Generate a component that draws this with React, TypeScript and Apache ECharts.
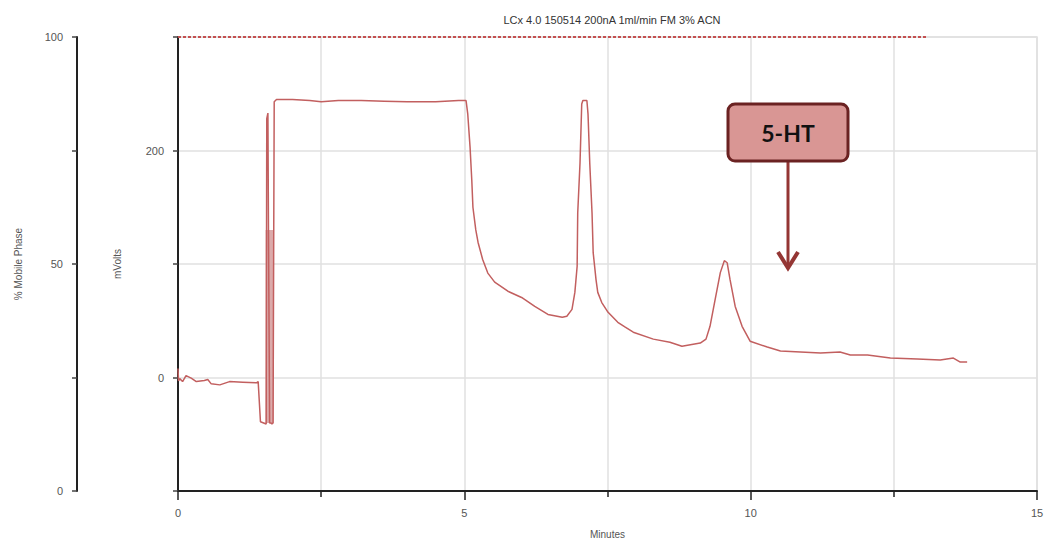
import React, { useEffect, useRef } from "react";
import * as echarts from "echarts";

const chartTitle = "LCx 4.0 150514 200nA 1ml/min FM 3% ACN";
const xAxisName = "Minutes";
const mvAxisName = "mVolts";
const phaseAxisName = "% Mobile Phase";
const mvLabels = [0, 200];
const phaseLabels = [0, 50, 100];
const peakLabel = "5-HT";

// detector trace [minutes, mV]
const traceTimes = [
  0, 0.01, 0.03, 0.08, 0.14, 0.23, 0.32, 0.46, 0.52, 0.58, 0.73, 0.9, 1.13, 1.37, 1.4, 1.44, 1.54,
  1.55, 1.57, 1.58, 1.6, 1.62, 1.64, 1.66, 1.68, 1.72, 2.0, 2.3, 2.5, 2.8, 3.2, 3.6, 4.0, 4.5, 4.9,
  5.03, 5.06, 5.1, 5.13, 5.15, 5.2, 5.24, 5.32, 5.41, 5.53, 5.76, 6.0, 6.23, 6.46, 6.71, 6.79, 6.88,
  6.93, 6.97, 6.98, 7.02, 7.05, 7.07, 7.14, 7.16, 7.19, 7.23, 7.25, 7.3, 7.33, 7.4, 7.51, 7.68, 7.81,
  7.95, 8.3, 8.59, 8.8, 9.12, 9.22, 9.29, 9.38, 9.47, 9.54, 9.59, 9.64, 9.73, 9.85, 9.99, 10.29,
  10.52, 10.87, 11.22, 11.56, 11.74, 12.04, 12.44, 12.91, 13.31, 13.54, 13.66, 13.78,
];
const traceValues = [
  8, -3, -1, -3.6, 1.7, -0.6, -3.6, -2.7, -1.8, -5.6, -6.5, -3.6, -4.1, -4.7, -3.6, -39, -41,
  228, 233, 130, -40, -40, -41, -40, 243, 245, 245, 244, 243, 244, 244, 243.5, 243, 243, 244,
  244, 232, 203, 174, 150, 130, 119, 104, 92, 84, 76, 70.5, 62.6, 55.6, 53, 54, 60,
  75, 98, 145, 189, 241, 244, 244, 232, 189, 145, 110, 86, 75, 66, 57.4, 48.6, 44.3,
  39.9, 33.8, 31.1, 27.6, 30.3, 33.8, 45.1, 68.8, 92.4, 102.9, 101.1, 86.2, 62.6, 45.1, 32, 26.8,
  23.3, 22.4, 21.5, 22.4, 19.8, 19.8, 17.1, 16.3, 15.4, 17.1, 13.6, 13.6,
];
// unresolved oscillation band around the injection spike: [tStart, tEnd, low mV, high mV]
const noiseBand = [1.53, 1.67, -40, 130];
// mobile phase programme [minutes, %]
const phaseTimes = [0, 13.08];
const phaseValues = [100, 100];

const labelColor = "#555555";
const font = "Liberation Sans";

export default function App() {
  const ref = useRef<HTMLDivElement>(null);
  useEffect(() => {
    if (!ref.current) return;
    const chart = echarts.init(ref.current, undefined, { renderer: "svg" });
    const trace = traceTimes.map((t, i) => [t, traceValues[i]]);
    const phase = phaseTimes.map((t, i) => [t, phaseValues[i]]);
    chart.setOption({
      animation: false,
      backgroundColor: "#fff",
      title: {
        text: chartTitle,
        left: 607,
        top: 9,
        textAlign: "center",
        textStyle: { fontFamily: font, fontSize: 11, fontWeight: "normal", color: "#333" },
      },
      grid: {
        left: 178,
        right: 9,
        top: 37,
        bottom: 48,
        show: true,
        borderColor: "#e0e0e0",
        borderWidth: 1.5,
        containLabel: false,
        outerBoundsMode: "none",
      },
      xAxis: {
        type: "value",
        min: 0,
        max: 15,
        interval: 5,
        name: xAxisName,
        nameLocation: "middle",
        nameGap: 38,
        nameTextStyle: { fontFamily: font, fontSize: 10, color: labelColor },
        axisLine: { show: true, onZero: false, lineStyle: { color: "#222", width: 2 } },
        axisTick: { show: true, length: 9, lineStyle: { color: "#222", width: 1.5 } },
        minorTick: { show: true, splitNumber: 2, length: 6, lineStyle: { color: "#222", width: 1.5 } },
        axisLabel: { margin: 16, fontFamily: font, fontSize: 11, color: labelColor },
        splitLine: { show: true, lineStyle: { color: "#e0e0e0", width: 1.5 } },
        minorSplitLine: { show: true, lineStyle: { color: "#e0e0e0", width: 1.5 } },
      },
      yAxis: [
        {
          type: "value",
          position: "left",
          min: -100,
          max: 300,
          interval: 100,
          name: mvAxisName,
          nameLocation: "middle",
          nameGap: 56,
          nameRotate: 90,
          nameTextStyle: { fontFamily: font, fontSize: 10, color: labelColor },
          axisLine: { show: true, onZero: false, lineStyle: { color: "#222", width: 2 } },
          axisTick: { show: true, length: 5, lineStyle: { color: "#444", width: 1.5 } },
          axisLabel: {
            margin: 14,
            fontFamily: font,
            fontSize: 11,
            color: labelColor,
            formatter: (v: number) => (mvLabels.includes(v) ? String(v) : ""),
          },
          splitLine: { show: true, lineStyle: { color: "#e0e0e0", width: 1.5 } },
        },
        {
          type: "value",
          position: "left",
          offset: 101,
          min: 0,
          max: 100,
          interval: 25,
          name: phaseAxisName,
          nameLocation: "middle",
          nameGap: 54,
          nameRotate: 90,
          nameTextStyle: { fontFamily: font, fontSize: 10, color: labelColor },
          axisLine: { show: true, onZero: false, lineStyle: { color: "#222", width: 2 } },
          axisTick: { show: true, length: 5, lineStyle: { color: "#444", width: 1.5 } },
          axisLabel: {
            margin: 14,
            fontFamily: font,
            fontSize: 11,
            color: labelColor,
            formatter: (v: number) => (phaseLabels.includes(v) ? String(v) : ""),
          },
          splitLine: { show: false },
        },
      ],
      series: [
        {
          type: "line",
          yAxisIndex: 0,
          data: trace,
          showSymbol: false,
          symbol: "none",
          lineStyle: { color: "#c25f5f", width: 1.5 },
          z: 3,
          markArea: {
            silent: true,
            itemStyle: { color: "#dcaaaa" },
            data: [[
              { coord: [noiseBand[0], noiseBand[2]] },
              { coord: [noiseBand[1], noiseBand[3]] },
            ]],
          },
        },
        {
          type: "line",
          yAxisIndex: 1,
          data: phase,
          showSymbol: false,
          symbol: "none",
          clip: false,
          lineStyle: { color: "#c45050", width: 2, type: [3, 2] },
          z: 4,
        },
      ],
      graphic: [
        {
          type: "line",
          shape: { x1: 788, y1: 161, x2: 788, y2: 268 },
          style: { stroke: "#943634", lineWidth: 3 },
          z: 10,
        },
        {
          type: "polyline",
          shape: { points: [[778, 252], [788, 268], [798, 252]] },
          style: { stroke: "#943634", lineWidth: 4, fill: null },
          z: 10,
        },
        {
          type: "rect",
          shape: { x: 728, y: 104, width: 120, height: 57, r: 7 },
          style: { fill: "#d99694", stroke: "#6b2222", lineWidth: 3 },
          z: 11,
        },
        {
          type: "text",
          x: 788,
          y: 133,
          style: {
            text: peakLabel,
            align: "center",
            verticalAlign: "middle",
            font: "bold 23px Lato",
            fill: "#111",
          },
          z: 12,
        },
      ],
    });
    return () => chart.dispose();
  }, []);
  return (
    <div
      ref={ref}
      style={{ position: "fixed", left: 0, top: 0, width: 1046, height: 539, background: "#fff" }}
    />
  );
}
